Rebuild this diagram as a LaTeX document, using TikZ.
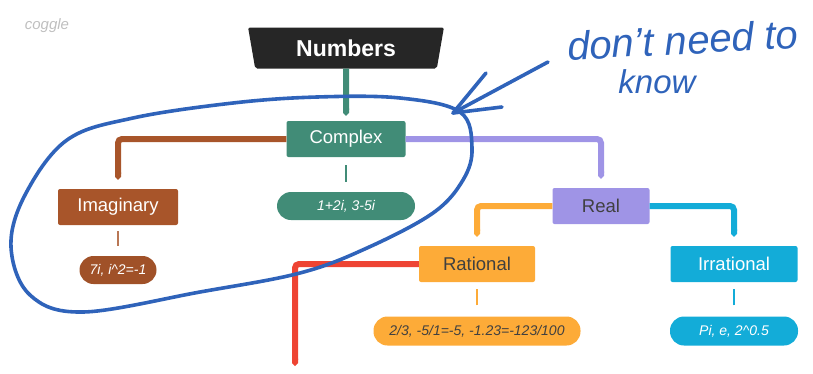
\documentclass[tikz,border=0pt]{standalone}
\usepackage{fontspec}
\setmainfont{Liberation Sans}
\usetikzlibrary{arrows.meta,shapes.geometric}

\definecolor{cgreen}{HTML}{418C77}
\definecolor{cbrown}{HTML}{A8552A}
\definecolor{cpurple}{HTML}{9F94E6}
\definecolor{corange}{HTML}{FDAB38}
\definecolor{cred}{HTML}{EE4433}
\definecolor{ccyan}{HTML}{13ACD8}
\definecolor{ink}{HTML}{2F63BA}

\begin{document}
\begin{tikzpicture}[x=1pt, y=-1pt,
  box/.style={rounded corners=2pt, minimum height=36pt, inner sep=0pt,
              text=white, font=\fontsize{18.5}{18.5}\selectfont},
  pill/.style={rounded corners=14pt, minimum height=29pt, inner sep=0pt,
               text=white, font=\fontsize{14}{14}\selectfont\itshape},
  link/.style={line width=6pt, rounded corners=4pt, -{Triangle Cap[]}},
  tick/.style={line width=2.2pt},
  hand/.style={draw=ink, line width=3.6pt, line cap=round, line join=round},
]
\useasboundingbox (0,0) rectangle (813,373);

% watermark
\node[text=black!25, font=\fontsize{15}{15}\selectfont\itshape] (wm) at (47,26) {coggle};

% root
\node[trapezium, trapezium angle=80, shape border rotate=180, trapezium stretches=true,
      minimum width=196pt, minimum height=41pt, fill=black!85, rounded corners=2pt,
      text=white, font=\fontsize{23}{23}\selectfont\bfseries] (numbers) at (346,48) {Numbers};

% first level
\node[box, fill=cgreen, minimum width=119pt] (complex) at (346,139) {Complex};
\node[box, fill=cbrown, minimum width=120pt] (imag) at (118,207) {Imaginary};
\node[box, fill=cpurple, minimum width=97pt, text=black!75] (real) at (601,206) {Real};
\node[box, fill=corange, minimum width=116pt, text=black!75] (rational) at (477,264) {Rational};
\node[box, fill=ccyan, minimum width=127pt] (irrational) at (734,264) {Irrational};

% examples
\node[pill, fill=cgreen, minimum width=138pt, minimum height=28pt] (cpill) at (346,206) {1+2i, 3-5i};
\node[pill, fill=cbrown!95!black, minimum width=77pt, minimum height=28pt] (ipill) at (118,270) {7i, i\^{}2=-1};
\node[pill, fill=corange, minimum width=207pt, text=black!75] (rpill) at (477,331) {2/3, -5/1=-5, -1.23=-123/100};
\node[pill, fill=ccyan, minimum width=128pt] (irpill) at (734,331) {Pi, e, 2\^{}0.5};

% branches
\coordinate (redend) at (295,366);
\draw[link, cgreen] (numbers.south) -- ([yshift=5pt]complex.north);
\draw[link, cbrown] (complex.west) -| ([yshift=9pt]imag.north);
\draw[link, cpurple] (complex.east) -| ([yshift=9pt]real.north);
\draw[link, corange] (real.west) -| ([yshift=9pt]rational.north);
\draw[link, ccyan] (real.east) -| ([yshift=9pt]irrational.north);
\draw[link, cred] (rational.west) -| (redend);

\draw[tick, cgreen] ([yshift=10pt]cpill.north) -- ++(0,-17);
\draw[tick, cbrown!80] ([yshift=10pt]ipill.north) -- ++(0,-15);
\draw[tick, corange] ([yshift=11pt]rpill.north) -- ++(0,-16);
\draw[tick, ccyan] ([yshift=11pt]irpill.north) -- ++(0,-16);

% handwritten note
\draw[hand] plot[smooth cycle, tension=0.6] coordinates {
  (460,112) (400,98) (317,97) (233,103) (133,118) (67,140) (25,195) (11,247)
  (30,295) (83,312) (200,292) (300,273) (367,248) (433,213) (463,180) (472,148)};
\coordinate (tail) at (548,62);
\coordinate (head) at (453,113);
\draw[hand] (tail) -- (head);
\draw[hand] (486,73) -- (head) -- (502,107);
\node[text=ink, font=\fontsize{40}{40}\selectfont\itshape, rotate=3, inner sep=0pt] (note) at (683,40) {don't need to};
\node[text=ink, font=\fontsize{33}{33}\selectfont\itshape, inner sep=0pt] (know) at (657,82) {know};
\end{tikzpicture}
\end{document}
